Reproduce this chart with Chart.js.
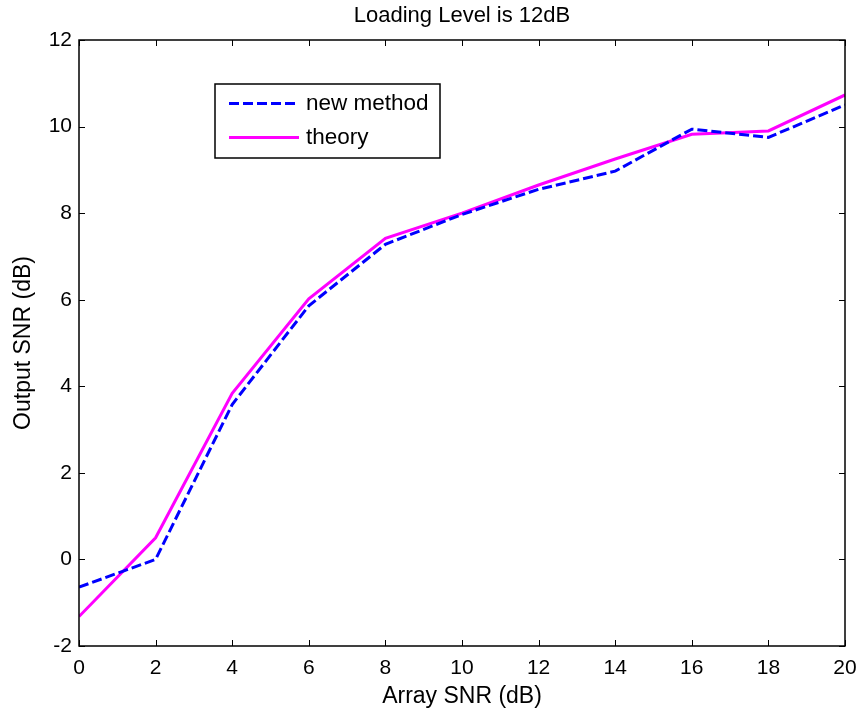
<!DOCTYPE html>
<html>
<head>
<meta charset="utf-8">
<script src="https://cdn.jsdelivr.net/npm/chart.js@4/dist/chart.umd.min.js"></script>
<style>
	html, body { margin: 0; padding: 0; background: #fff; }
	#wrap { width: 861px; height: 713px; position: relative; }
</style>
</head>
<body>
<div id="wrap"><canvas id="snr-chart"></canvas></div>
<script>
// Array SNR in dB, the x positions shared by both curves.
const arraySNR = [0, 2, 4, 6, 8, 10, 12, 14, 16, 18, 20];
// Output SNR (dB) for each curve.
const newMethod = [-0.64, 0.0, 3.58, 5.86, 7.28, 7.97, 8.55, 8.97, 9.94, 9.75, 10.5];
const theory = [-1.32, 0.5, 3.84, 6.02, 7.42, 8.0, 8.65, 9.25, 9.82, 9.9, 10.73];
const xTicks = [0, 2, 4, 6, 8, 10, 12, 14, 16, 18, 20];
const yTicks = [-2, 0, 2, 4, 6, 8, 10, 12];

const FONT = "'Liberation Sans', Arial, Helvetica, sans-serif";
Chart.defaults.color = "#000";
Chart.defaults.font.family = FONT;

const toPoints = ys => arraySNR.map((x, i) => ({x: x, y: ys[i]}));

// Box round the plot area with short inward ticks on every side.
const frame = {
	id: "frame",
	afterDraw(chart){
		const {ctx, chartArea: a, scales} = chart;
		const len = 6;
		ctx.save();
		ctx.strokeStyle = "#000";
		ctx.lineWidth = 1.5;
		ctx.strokeRect(a.left, a.top, a.right - a.left, a.bottom - a.top);
		ctx.lineWidth = 1;
		ctx.beginPath();
		xTicks.forEach(v => {
			const px = Math.round(scales.x.getPixelForValue(v)) + 0.5;
			ctx.moveTo(px, a.bottom); ctx.lineTo(px, a.bottom - len);
			ctx.moveTo(px, a.top); ctx.lineTo(px, a.top + len);
		});
		yTicks.forEach(v => {
			const py = Math.round(scales.y.getPixelForValue(v)) + 0.5;
			ctx.moveTo(a.left, py); ctx.lineTo(a.left + len, py);
			ctx.moveTo(a.right, py); ctx.lineTo(a.right - len, py);
		});
		ctx.stroke();
		ctx.restore();
	}
};

// Boxed legend sitting inside the plot, upper left.
const boxLegend = {
	id: "boxLegend",
	afterDraw(chart){
		const {ctx, chartArea: a} = chart;
		const left = a.left + 136, top = a.top + 44;
		const w = 225, h = 74;
		ctx.save();
		ctx.fillStyle = "#fff";
		ctx.fillRect(left, top, w, h);
		ctx.strokeStyle = "#000";
		ctx.lineWidth = 1.5;
		ctx.strokeRect(left, top, w, h);
		ctx.font = "22.5px " + FONT;
		ctx.textBaseline = "middle";
		chart.data.datasets.forEach((ds, i) => {
			const y = top + 19.5 + i * 34;
			ctx.strokeStyle = ds.borderColor;
			ctx.lineWidth = ds.borderWidth;
			ctx.setLineDash(ds.borderDash || []);
			ctx.beginPath();
			ctx.moveTo(left + 14, y);
			ctx.lineTo(left + 84, y);
			ctx.stroke();
			ctx.setLineDash([]);
			ctx.fillStyle = "#000";
			ctx.fillText(ds.label, left + 91, y);
		});
		ctx.restore();
	}
};

new Chart(document.querySelector("#snr-chart"), {
	type: "line",
	data: {
		datasets: [
			{
				label: "new method",
				data: toPoints(newMethod),
				borderColor: "#0000ff",
				borderWidth: 3,
				borderDash: [10, 4],
				pointRadius: 0,
				tension: 0,
			},
			{
				label: "theory",
				data: toPoints(theory),
				borderColor: "#ff00ff",
				borderWidth: 3,
				pointRadius: 0,
				tension: 0,
			},
		]
	},
	options: {
		responsive: true,
		maintainAspectRatio: false,
		animation: false,
		layout: {padding: {left: 0, right: 16, top: 0, bottom: 0}},
		plugins: {
			legend: {display: false},
			tooltip: {enabled: false},
			title: {
				display: true,
				fullSize: false,
				text: "Loading Level is 12dB",
				font: {size: 22, weight: "normal", lineHeight: 1.2},
				padding: {top: 3, bottom: 10.6},
			},
		},
		scales: {
			x: {
				type: "linear",
				min: 0, max: 20,
				afterBuildTicks: s => { s.ticks = xTicks.map(v => ({value: v})); },
				afterFit: s => { s.height = 67; s.paddingLeft = 0; s.paddingRight = 0; },
				grid: {display: false, drawTicks: false},
				border: {display: false},
				ticks: {font: {size: 21}, padding: 10, maxRotation: 0},
				title: {display: true, text: "Array SNR (dB)", font: {size: 23}, padding: {top: 0, bottom: 3}},
			},
			y: {
				type: "linear",
				min: -2, max: 12,
				afterBuildTicks: s => { s.ticks = yTicks.map(v => ({value: v})); },
				afterFit: s => { s.width = 79; s.paddingTop = 0; s.paddingBottom = 0; },
				grid: {display: false, drawTicks: false},
				border: {display: false},
				ticks: {font: {size: 21}, padding: 7},
				title: {display: true, text: "Output SNR (dB)", font: {size: 23}, padding: {top: 10, bottom: 0}},
			},
		},
	},
	plugins: [frame, boxLegend],
});
</script>
</body>
</html>
